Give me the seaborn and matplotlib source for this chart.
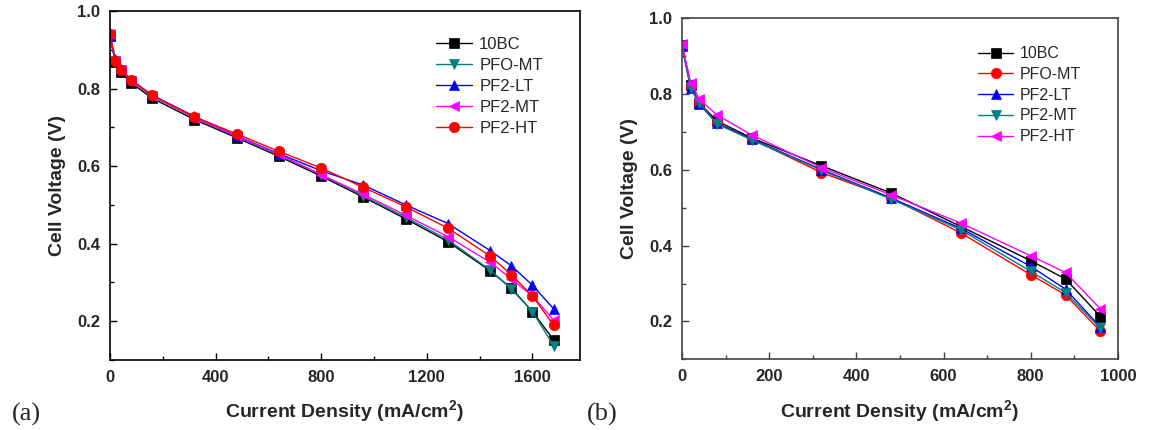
import matplotlib
matplotlib.use("Agg")
import matplotlib.pyplot as plt
import seaborn as sns
import pandas as pd
from matplotlib.ticker import MultipleLocator, FormatStrFormatter

sns.set_theme(style="ticks")
plt.rcParams['font.family'] = ['Liberation Sans', 'DejaVu Sans']

# ---- data (a) ----
x_a = [0, 20, 40, 80, 160, 320, 480, 640, 800, 960, 1120, 1280, 1440, 1520, 1600, 1680]
a_10BC = [0.935, 0.868, 0.843, 0.815, 0.775, 0.72, 0.673, 0.625, 0.574, 0.52, 0.464, 0.405, 0.33, 0.285, 0.225, 0.152]
a_PFO_MT = [0.93, 0.872, 0.848, 0.82, 0.78, 0.725, 0.676, 0.628, 0.578, 0.523, 0.468, 0.41, 0.332, 0.283, 0.225, 0.137]
a_PF2_LT = [0.935, 0.875, 0.85, 0.822, 0.783, 0.728, 0.678, 0.632, 0.588, 0.551, 0.5, 0.452, 0.382, 0.343, 0.293, 0.232]
a_PF2_MT = [0.94, 0.872, 0.848, 0.82, 0.782, 0.725, 0.677, 0.63, 0.578, 0.527, 0.473, 0.418, 0.352, 0.309, 0.265, 0.203]
a_PF2_HT = [0.94, 0.872, 0.848, 0.822, 0.783, 0.727, 0.683, 0.638, 0.595, 0.545, 0.495, 0.44, 0.368, 0.32, 0.265, 0.19]

# ---- data (b) ----
x_b = [0, 20, 40, 80, 160, 320, 480, 640, 800, 880, 960]
b_10BC = [0.928, 0.822, 0.775, 0.728, 0.683, 0.61, 0.538, 0.45, 0.36, 0.312, 0.213]
b_PFO_MT = [0.925, 0.82, 0.775, 0.722, 0.68, 0.592, 0.525, 0.433, 0.323, 0.27, 0.174]
b_PF2_LT = [0.925, 0.815, 0.772, 0.722, 0.68, 0.6, 0.525, 0.445, 0.345, 0.285, 0.185]
b_PF2_MT = [0.925, 0.814, 0.775, 0.72, 0.678, 0.598, 0.522, 0.441, 0.332, 0.276, 0.182]
b_PF2_HT = [0.931, 0.829, 0.785, 0.744, 0.691, 0.605, 0.533, 0.459, 0.373, 0.329, 0.233]

series_a = [("10BC", a_10BC, "black", "s"),
            ("PFO-MT", a_PFO_MT, "#008080", "v"),
            ("PF2-LT", a_PF2_LT, "#0000ff", "^"),
            ("PF2-MT", a_PF2_MT, "#ff00ff", "<"),
            ("PF2-HT", a_PF2_HT, "#ff0000", "o")]
series_b = [("10BC", b_10BC, "black", "s"),
            ("PFO-MT", b_PFO_MT, "#ff0000", "o"),
            ("PF2-LT", b_PF2_LT, "#0000ff", "^"),
            ("PF2-MT", b_PF2_MT, "#008080", "v"),
            ("PF2-HT", b_PF2_HT, "#ff00ff", "<")]

fig = plt.figure(figsize=(11.75, 4.3), dpi=100)
ax1 = fig.add_axes([0.0936, 0.1628, 0.4, 0.8116])
ax2 = fig.add_axes([0.5804, 0.164, 0.371, 0.795])

def draw(ax, xs, series, xlim, xmaj, xmin, spine_color, leg_anchor, leg_fs):
    for name, ys, col, mk in series:
        df = pd.DataFrame({"x": xs, "y": ys})
        sns.lineplot(data=df, x="x", y="y", ax=ax, color=col, marker=mk,
                     markersize=7.5, linewidth=1, markeredgewidth=0.5,
                     markeredgecolor=col, label=name, sort=False)
    ax.set_xlim(*xlim)
    ax.set_ylim(0.1, 1.0)
    ax.xaxis.set_major_locator(MultipleLocator(xmaj))
    ax.xaxis.set_minor_locator(MultipleLocator(xmin))
    ax.yaxis.set_major_locator(MultipleLocator(0.2))
    ax.yaxis.set_minor_locator(MultipleLocator(0.1))
    ax.yaxis.set_major_formatter(FormatStrFormatter('%.1f'))
    ax.tick_params(which='both', direction='in', top=False, right=False,
                   labelsize=12, color=spine_color, width=1, pad=7)
    ax.tick_params(which='major', length=5)
    ax.tick_params(which='minor', length=3)
    for sp in ax.spines.values():
        sp.set_color(spine_color)
        sp.set_linewidth(1.2)
    ax.set_xlabel("Current Density (mA/cm$^\\mathregular{2}$)", fontsize=14,
                  fontweight='bold', labelpad=10)
    ax.set_ylabel("Cell Voltage (V)", fontsize=14, fontweight='bold', labelpad=8)
    ax.legend(loc='upper right', frameon=False, fontsize=leg_fs,
              handlelength=2.2, handletextpad=0.4, labelspacing=0.36,
              borderaxespad=0, bbox_to_anchor=leg_anchor)
    for lab in ax.get_xticklabels() + ax.get_yticklabels():
        lab.set_fontweight('bold')

draw(ax1, x_a, series_a, (0, 1780), 400, 200, "black", (0.935, 0.945), 12)
draw(ax2, x_b, series_b, (0, 1000), 200, 100, "#444444", (0.93, 0.935), 11.5)

fig.text(0.01, 0.022, "(a)", fontsize=19, family=['Liberation Serif'])
fig.text(0.4996, 0.022, "(b)", fontsize=19, family=['Liberation Serif'])

fig.savefig("out.png", dpi=100)
